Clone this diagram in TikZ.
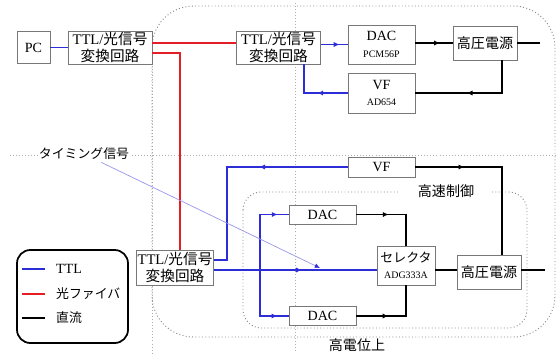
\documentclass[tikz,border=0pt]{standalone}
\usepackage{fontspec}
\setmainfont{Liberation Serif}
\newfontfamily\jp{Noto Sans CJK JP}
\newcommand{\partno}[1]{{\fontsize{8.5}{10}\selectfont #1}}
\usetikzlibrary{arrows.meta,decorations.markings}

\begin{document}
\begin{tikzpicture}[x=0.03cm,y=-0.03cm,>=Latex,font=\fontsize{12}{14}\selectfont,
  blk/.style={draw=boxline,fill=white,line width=0.7pt,inner sep=1pt,align=center},
  conv/.style={blk,minimum width=2.52cm,minimum height=0.99cm,font=\fontsize{12.5}{14}\selectfont},
  ttl/.style={ttlblue,line width=1.6pt},
  fib/.style={fibred,line width=1.6pt},
  dc/.style={black,line width=1.6pt},
  midarr/.style={postaction={decorate},decoration={markings,
    mark=at position #1 with {\arrow{Latex[length=5pt,width=4.5pt]}}}},
  guide/.style={guidegray,dotted,line width=0.6pt},
  zone/.style={zonegray,dotted,line width=0.8pt},
  timline/.style={timblue,line width=0.6pt}]
\definecolor{ttlblue}{RGB}{45,45,215}
\definecolor{fibred}{RGB}{228,30,36}
\definecolor{boxline}{RGB}{120,120,120}
\definecolor{guidegray}{RGB}{175,175,175}
\definecolor{zonegray}{RGB}{135,135,135}
\definecolor{timblue}{RGB}{150,150,235}
\useasboundingbox (0,0) rectangle (557,353);

% Dotted guides and the two zones.
\draw[guide] (10,155) -- (557,155);
\draw[guide] (152,45) -- (152,353);
\draw[guide] (295,3) -- (295,353);
\draw[zone,rounded corners=1.25cm] (152,6) rectangle (555,337);
\draw[zone,rounded corners=0.55cm] (243,192) rectangle (527,328);
\node[fill=white,inner xsep=0.55cm,inner ysep=1pt] (fastzone) at (446,191.5) {\jp 高速制御};
\node (hvzone) at (357,345) {\jp 高電位上};
\node[fill=white,inner sep=1pt,font=\fontsize{11}{13}\selectfont] (timing) at (84,154) {\jp タイミング信号};

% Ground side and the upper (slow) loop.
\node[blk,minimum width=0.99cm,minimum height=0.96cm] (pc) at (33.5,47.5) {PC};
\node[conv] (conv1) at (110,47.5) {TTL/{\jp 光信号}\\{\jp 変換回路}};
\node[conv] (conv2) at (278.5,47.5) {TTL/{\jp 光信号}\\{\jp 変換回路}};
\node[blk,minimum width=2.01cm,minimum height=1.17cm] (dac1) at (381.5,44.5) {DAC\\\partno{PCM56P}};
\node[blk,minimum width=1.92cm,minimum height=1.02cm] (hv1) at (485,43) {\jp 高圧電源};
\node[blk,minimum width=2.01cm,minimum height=1.2cm] (vf1) at (381.5,93) {VF\\\partno{AD654}};

% Lower (fast) loop.
\node[conv,minimum width=2.28cm,minimum height=1.05cm] (conv3) at (175,267.5) {TTL/{\jp 光信号}\\{\jp 変換回路}};
\node[blk,minimum width=2.01cm,minimum height=0.6cm] (vf2) at (381.5,167) {VF};
\node[blk,minimum width=2.01cm,minimum height=0.57cm] (dacu) at (322.5,214.5) {DAC};
\node[blk,minimum width=2.01cm,minimum height=0.57cm] (dacl) at (322.5,316) {DAC};
\node[blk,minimum width=1.74cm,minimum height=1.17cm,inner sep=0pt] (sel) at (406,265.5) {{\jp\fontsize{11}{13}\selectfont セレクタ}\\\partno{ADG333A}};
\node[blk,minimum width=1.92cm,minimum height=1.0cm] (hv2) at (489,272.5) {\jp 高圧電源};

\coordinate (fibt) at (200,43);
\coordinate (fibk) at (180,53);
\coordinate (tapa) at (304,0);
\coordinate (tapb) at (227,260);
\coordinate (hvtap) at (502,0);
\coordinate (br) at (260,270);
\coordinate (out1) at (540,43);
\coordinate (out2) at (545,270);
\coordinate (tend) at (320,268);

% Connectors.
\draw[ttl] (pc.east) -- (conv1.west);
\draw[fib] (conv1.east |- fibt) -- (conv2.west |- fibt);
\draw[fib] (conv1.east |- fibk) -| (conv3.north -| fibk);
\draw[ttl,midarr=0.7] (conv2.east |- dac1.west) -- (dac1.west);
\draw[dc,midarr=0.66] (dac1.east |- hv1.west) -- (hv1.west);
\draw[dc] (hv1.east) -- (out1);
\draw[dc,midarr=0.57] (hv1.south -| hvtap) |- (vf1.east);
\draw[ttl,midarr=0.42] (vf1.west) -| (conv2.south -| tapa);
\draw[dc,midarr=0.28] (vf2.east) -| (hv2.north -| hvtap);
\draw[ttl,midarr=0.39] (vf2.west) -| (tapb) -- (conv3.east |- tapb);
\draw[ttl,midarr=0.54] (conv3.east |- br) -- (sel.west |- br);
\draw[ttl,midarr=0.87] (br) |- (dacu.west);
\draw[ttl,midarr=0.85] (br) |- (dacl.west);
\draw[dc,midarr=0.4] (dacu.east) -| (sel.north);
\draw[dc,midarr=0.4] (dacl.east) -| (sel.south);
\draw[dc] (sel.east |- br) -- (hv2.west |- br);
\draw[dc] (hv2.east |- out2) -- (out2);
\draw[timline,shorten <=2pt,-{Latex[length=4.5pt,width=4pt,color=ttlblue]}] (timing) -- (tend);

% Legend.
\draw[black,line width=1.5pt,rounded corners=0.4cm] (17,250) rectangle (128,343);
\draw[ttl] (22,269) -- (45,269);
\node[anchor=west] (lgttl) at (52,269) {TTL};
\draw[fib] (22,294) -- (45,294);
\node[anchor=west,font=\fontsize{11}{13}\selectfont] (lgfib) at (52,294) {\jp 光ファイバ};
\draw[dc] (22,318) -- (45,318);
\node[anchor=west,font=\fontsize{11}{13}\selectfont] (lgdc) at (52,318) {\jp 直流};
\end{tikzpicture}
\end{document}
